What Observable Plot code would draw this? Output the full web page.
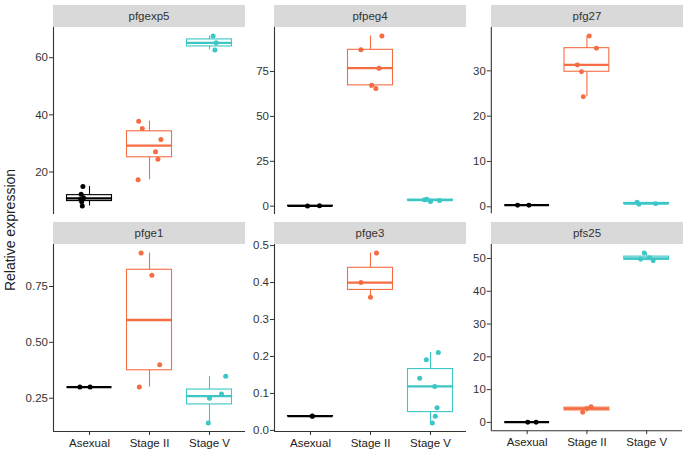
<!DOCTYPE html>
<html><head><meta charset="utf-8">
<script src="https://cdn.jsdelivr.net/npm/d3@7"></script>
<script src="https://cdn.jsdelivr.net/npm/@observablehq/plot@0.6"></script>
<style>
body{margin:0;background:#fff;font-family:"Liberation Sans",Arial,sans-serif;}
#chart{position:relative;width:685px;height:456px;overflow:hidden;background:#fff;}
.strip{position:absolute;height:22px;background:#d9d9d9;color:#333;font-size:11.5px;line-height:22px;text-align:center;}
.ylab{position:absolute;width:240px;height:16px;line-height:16px;font-size:14px;color:#222;text-align:center;transform:rotate(-90deg);transform-origin:50% 50%;}
.panel{position:absolute;}
</style></head>
<body><div id="chart"></div>
<script>
// ---- data ----
const genes = ["pfgexp5", "pfpeg4", "pfg27", "pfge1", "pfge3", "pfs25"];
const stages = ["Asexual", "Stage II", "Stage V"];
const stageColors = ["#000000", "#F46D43", "#3CC6C6"];

// values per stage (Asexual, Stage II, Stage V)
const pfgexp5Values = [[14.9, 12.2, 11.0, 10.5, 9.6, 8.1], [37.8, 35.2, 31.4, 27.1, 24.5, 17.3], [67.6, 65.2, 62.7]];
const pfpeg4Values  = [[0.1, 0.2], [94.8, 87.1, 76.9, 67.3, 65.5], [3.6, 3.9, 2.6, 3.2]];
const pfg27Values   = [[0.35, 0.35], [37.7, 35.0, 31.3, 29.8, 24.3], [1.0, 0.55, 0.7]];
const pfge1Values   = [[0.3, 0.3], [0.9, 0.8, 0.4, 0.3], [0.348, 0.25, 0.269, 0.139]];
const pfge3Values   = [[0.039, 0.038], [0.48, 0.40, 0.36], [0.211, 0.191, 0.141, 0.119, 0.061, 0.038, 0.020]];
const pfs25Values   = [[0.05, 0.05], [4.8, 4.2, 3.1], [51.7, 50.2, 49.8, 49.3]];

// horizontal jitter of each point (in category units)
const pfgexp5Jitter = [[-0.11, -0.14, -0.1, -0.15, -0.13, -0.12], [-0.18, -0.12, 0.19, 0.10, 0.14, -0.19], [0.06, 0.11, 0.09]];
const pfpeg4Jitter  = [[-0.05, 0.15], [0.19, -0.16, 0.14, 0.02, 0.09], [-0.1, -0.06, 0.0, 0.15]];
const pfg27Jitter   = [[-0.16, 0.03], [0.04, 0.16, -0.16, -0.09, -0.06], [-0.16, -0.13, 0.15]];
const pfge1Jitter   = [[-0.16, 0.01], [-0.14, 0.04, 0.17, -0.17], [0.27, 0.0, 0.2, -0.02]];
const pfge3Jitter   = [[0.03, 0.03], [0.1, -0.16, 0.0], [0.13, -0.07, -0.18, 0.07, 0.11, 0.08, 0.03]];
const pfs25Jitter   = [[0.01, 0.15], [0.07, 0.0, -0.07], [-0.04, 0.05, -0.1, 0.11]];

// y tick values
const pfgexp5Ticks = [20, 40, 60];
const pfpeg4Ticks  = [0, 25, 50, 75];
const pfg27Ticks   = [0, 10, 20, 30];
const pfge1Ticks   = [0.25, 0.5, 0.75];
const pfge3Ticks   = [0, 0.1, 0.2, 0.3, 0.4, 0.5];
const pfs25Ticks   = [0, 10, 20, 30, 40, 50];
const tickFormats  = ["d", "d", "d", ".2f", ".1f", "d"];

const allValues = [pfgexp5Values, pfpeg4Values, pfg27Values, pfge1Values, pfge3Values, pfs25Values];
const allJitter = [pfgexp5Jitter, pfpeg4Jitter, pfg27Jitter, pfge1Jitter, pfge3Jitter, pfs25Jitter];
const allTicks  = [pfgexp5Ticks, pfpeg4Ticks, pfg27Ticks, pfge1Ticks, pfge3Ticks, pfs25Ticks];

// ---- layout ----
const colLeft = [53, 274, 491];
const rowTop = [27, 244];
const panelW = 192, panelH = 187, stripH = 22;
const mL = 45, mR = 3, mT = 6;

const chart = document.getElementById("chart");

genes.forEach((gene, g) => {
  const row = Math.floor(g / 3), col = g % 3;
  const bottom = row === 1;
  const mB = bottom ? 26 : 6;
  const vals = allValues[g], jit = allJitter[g];

  const points = [];
  const boxes = [];
  vals.forEach((arr, s) => {
    arr.forEach((v, k) => points.push({s: s + 1, v, j: jit[s][k], c: stageColors[s]}));
    const sorted = arr.slice().sort(d3.ascending);
    const q1 = d3.quantile(sorted, 0.25), med = d3.quantile(sorted, 0.5), q3 = d3.quantile(sorted, 0.75);
    const iqr = q3 - q1;
    const lo = d3.min(sorted.filter(v => v >= q1 - 1.5 * iqr));
    const hi = d3.max(sorted.filter(v => v <= q3 + 1.5 * iqr));
    boxes.push({s: s + 1, q1, med, q3, lo, hi, c: stageColors[s]});
  });

  const [mn, mx] = d3.extent(points, d => d.v);
  const pad = (mx - mn) * 0.05;
  const yDomain = [mn - pad, mx + pad];
  const fmt = d3.format(tickFormats[g]);

  const marks = [
    Plot.rect(boxes, {x1: d => d.s - 0.375, x2: d => d.s + 0.375, y1: "q1", y2: "q3", fill: "white", stroke: "c", strokeWidth: 1.1}),
    Plot.ruleX(boxes, {x: "s", y1: "q3", y2: "hi", stroke: "c", strokeWidth: 1.1}),
    Plot.ruleX(boxes, {x: "s", y1: "lo", y2: "q1", stroke: "c", strokeWidth: 1.1}),
    Plot.ruleY(boxes, {y: "med", x1: d => d.s - 0.375, x2: d => d.s + 0.375, stroke: "c", strokeWidth: 2.3}),
    Plot.dot(points, {x: d => d.s + d.j, y: "v", r: 2.5, fill: "c", stroke: null}),
    Plot.axisY(allTicks[g], {tickSize: 4, tickPadding: 1.5, tickFormat: fmt, fontSize: 11.5, fill: "#333", stroke: "#333", label: null}),
    Plot.ruleX([0.4], {stroke: "#333", strokeWidth: 1.1})
  ];
  if (bottom) {
    marks.push(Plot.ruleY([yDomain[0]], {stroke: "#333", strokeWidth: 1.1}));
    marks.push(Plot.axisX([1, 2, 3], {tickSize: 4, tickPadding: 3, tickFormat: i => stages[i - 1], fontSize: 11.5, fill: "#222", stroke: "#333", label: null}));
  }

  const svg = Plot.plot({
    width: mL + panelW + mR,
    height: mT + panelH + mB,
    marginLeft: mL, marginRight: mR, marginTop: mT, marginBottom: mB,
    style: {overflow: "visible", fontFamily: "'Liberation Sans', Arial, sans-serif", background: "transparent"},
    x: {domain: [0.4, 3.6], axis: null},
    y: {domain: yDomain, axis: null},
    color: {type: "identity"},
    marks
  });
  const wrap = document.createElement("div");
  wrap.className = "panel";
  wrap.style.left = (colLeft[col] - mL) + "px";
  wrap.style.top = (rowTop[row] - mT) + "px";
  wrap.appendChild(svg);
  chart.appendChild(wrap);

  const strip = document.createElement("div");
  strip.className = "strip";
  strip.style.left = colLeft[col] + "px";
  strip.style.top = (rowTop[row] - stripH) + "px";
  strip.style.width = panelW + "px";
  strip.textContent = gene;
  chart.appendChild(strip);
});

const ylab = document.createElement("div");
ylab.className = "ylab";
ylab.textContent = "Relative expression";
ylab.style.left = (10 - 120) + "px";
ylab.style.top = (230 - 8) + "px";
chart.appendChild(ylab);
</script>
</body></html>
